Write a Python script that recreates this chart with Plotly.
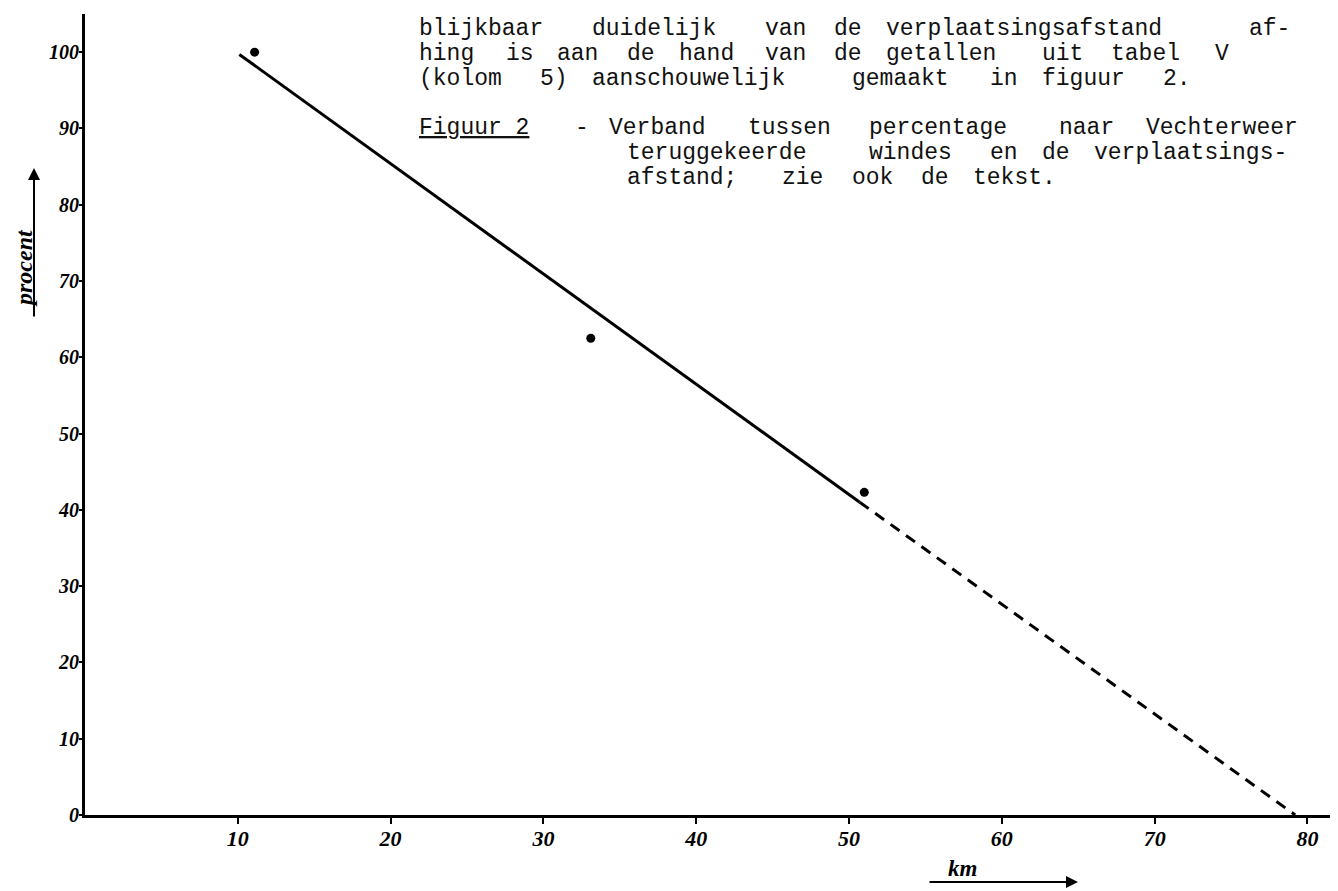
import plotly.graph_objects as go

# Data
point_km = [11.1, 33.1, 51.0]
point_pct = [100.0, 62.5, 42.3]

solid_km = [10.1, 50.7]
solid_pct = [99.7, 41.0]
dash_km = [50.7, 79.2]
dash_pct = [41.0, 0.0]

x_ticks = [10, 20, 30, 40, 50, 60, 70, 80]
x_tick_labels = ["10", "20", "30", "40", "50", "60", "70", "80"]
y_ticks = [0, 10, 20, 30, 40, 50, 60, 70, 80, 90, 100]
y_tick_labels = ["0", "10", "20", "30", "40", "50", "60", "70", "80", "90", "100"]

# typewritten text (non-breaking space keeps "Figuur 2" together)
text_lines = [
    "blijkbaar duidelijk van de verplaatsingsafstand af-",
    "hing is aan de hand van de getallen uit tabel V",
    "(kolom 5) aanschouwelijk gemaakt in figuur 2.",
    "Figuur\u00a02 - Verband tussen percentage naar Vechterweer",
    "            teruggekeerde windes en de verplaatsings-",
    "            afstand; zie ook de tekst.",
]
underlined = ["Figuur\u00a02"]
text_y_px = [29, 54, 79, 128, 153, 178]
TEXT_LEFT_PX = 417
CHAR_PITCH_PX = 17.3

# the page has an 8px body margin; compensate so positions match the window
OFF = 8
W, H = 1338 - OFF, 891 - OFF
ML, MR, MT, MB = 85 - OFF, 0, 14 - OFF, 76
PW, PH = W - ML - MR, H - MT - MB
PLOT_LEFT_PX = ML + OFF
PLOT_BOTTOM_PX = OFF + H - MB


def px_x(px):
    return (px - PLOT_LEFT_PX) / PW


def px_y(py):
    return (PLOT_BOTTOM_PX - py) / PH


def hand(size):
    return dict(family="Liberation Serif", size=size, color="black",
                weight="bold", style="italic")


fig = go.Figure()
fig.add_trace(go.Scatter(x=solid_km, y=solid_pct, mode="lines",
                         line=dict(color="black", width=3), showlegend=False))
fig.add_trace(go.Scatter(x=dash_km, y=dash_pct, mode="lines",
                         line=dict(color="black", width=3, dash="11px,8px"), showlegend=False))
fig.add_trace(go.Scatter(x=point_km, y=point_pct, mode="markers",
                         marker=dict(color="black", size=9), showlegend=False))

annotations = []
mono = dict(family="Liberation Mono", size=23, color="#111111")
for line, py in zip(text_lines, text_y_px):
    idx = 0
    for tok in line.split(" "):
        if tok:
            txt = f"<u>{tok}</u>" if tok in underlined else tok
            annotations.append(dict(
                x=px_x(TEXT_LEFT_PX + idx * CHAR_PITCH_PX), y=px_y(py),
                xref="paper", yref="paper", xanchor="left", yanchor="middle",
                showarrow=False, text=txt, font=mono))
        idx += len(tok) + 1

# y axis title with arrow
annotations.append(dict(
    x=px_x(24), y=px_y(268), xref="paper", yref="paper", showarrow=False,
    text="procent", textangle=-90, font=hand(24), xanchor="center", yanchor="middle"))
annotations.append(dict(
    x=px_x(34), y=px_y(168), xref="paper", yref="paper", showarrow=True,
    ax=0, ay=150, arrowhead=2, arrowsize=1.2, arrowwidth=2, arrowcolor="black", text=""))

# x axis title with arrow
annotations.append(dict(
    x=px_x(962), y=px_y(868), xref="paper", yref="paper", showarrow=False,
    text="km", font=hand(23), xanchor="center", yanchor="middle"))
annotations.append(dict(
    x=px_x(1078), y=px_y(882), xref="paper", yref="paper", showarrow=True,
    ax=-150, ay=0, arrowhead=2, arrowsize=1.2, arrowwidth=2, arrowcolor="black", text=""))

fig.update_layout(
    width=W, height=H,
    margin=dict(l=ML, r=MR, t=MT, b=MB),
    paper_bgcolor="white", plot_bgcolor="white",
    annotations=annotations,
    xaxis=dict(range=[0, 82], showgrid=False, zeroline=False,
               showline=True, linecolor="black", linewidth=3,
               tickmode="array", tickvals=x_ticks, ticktext=x_tick_labels,
               ticks="outside", ticklen=6, tickwidth=2, tickcolor="black",
               ticklabelstandoff=-4, tickfont=hand(22)),
    yaxis=dict(range=[0, 105], showgrid=False, zeroline=False,
               showline=True, linecolor="black", linewidth=3,
               tickmode="array", tickvals=y_ticks, ticktext=y_tick_labels,
               ticks="outside", ticklen=3, tickwidth=2, tickcolor="black",
               ticklabelstandoff=-4, tickfont=hand(20)),
)

fig.write_html("out.html")
